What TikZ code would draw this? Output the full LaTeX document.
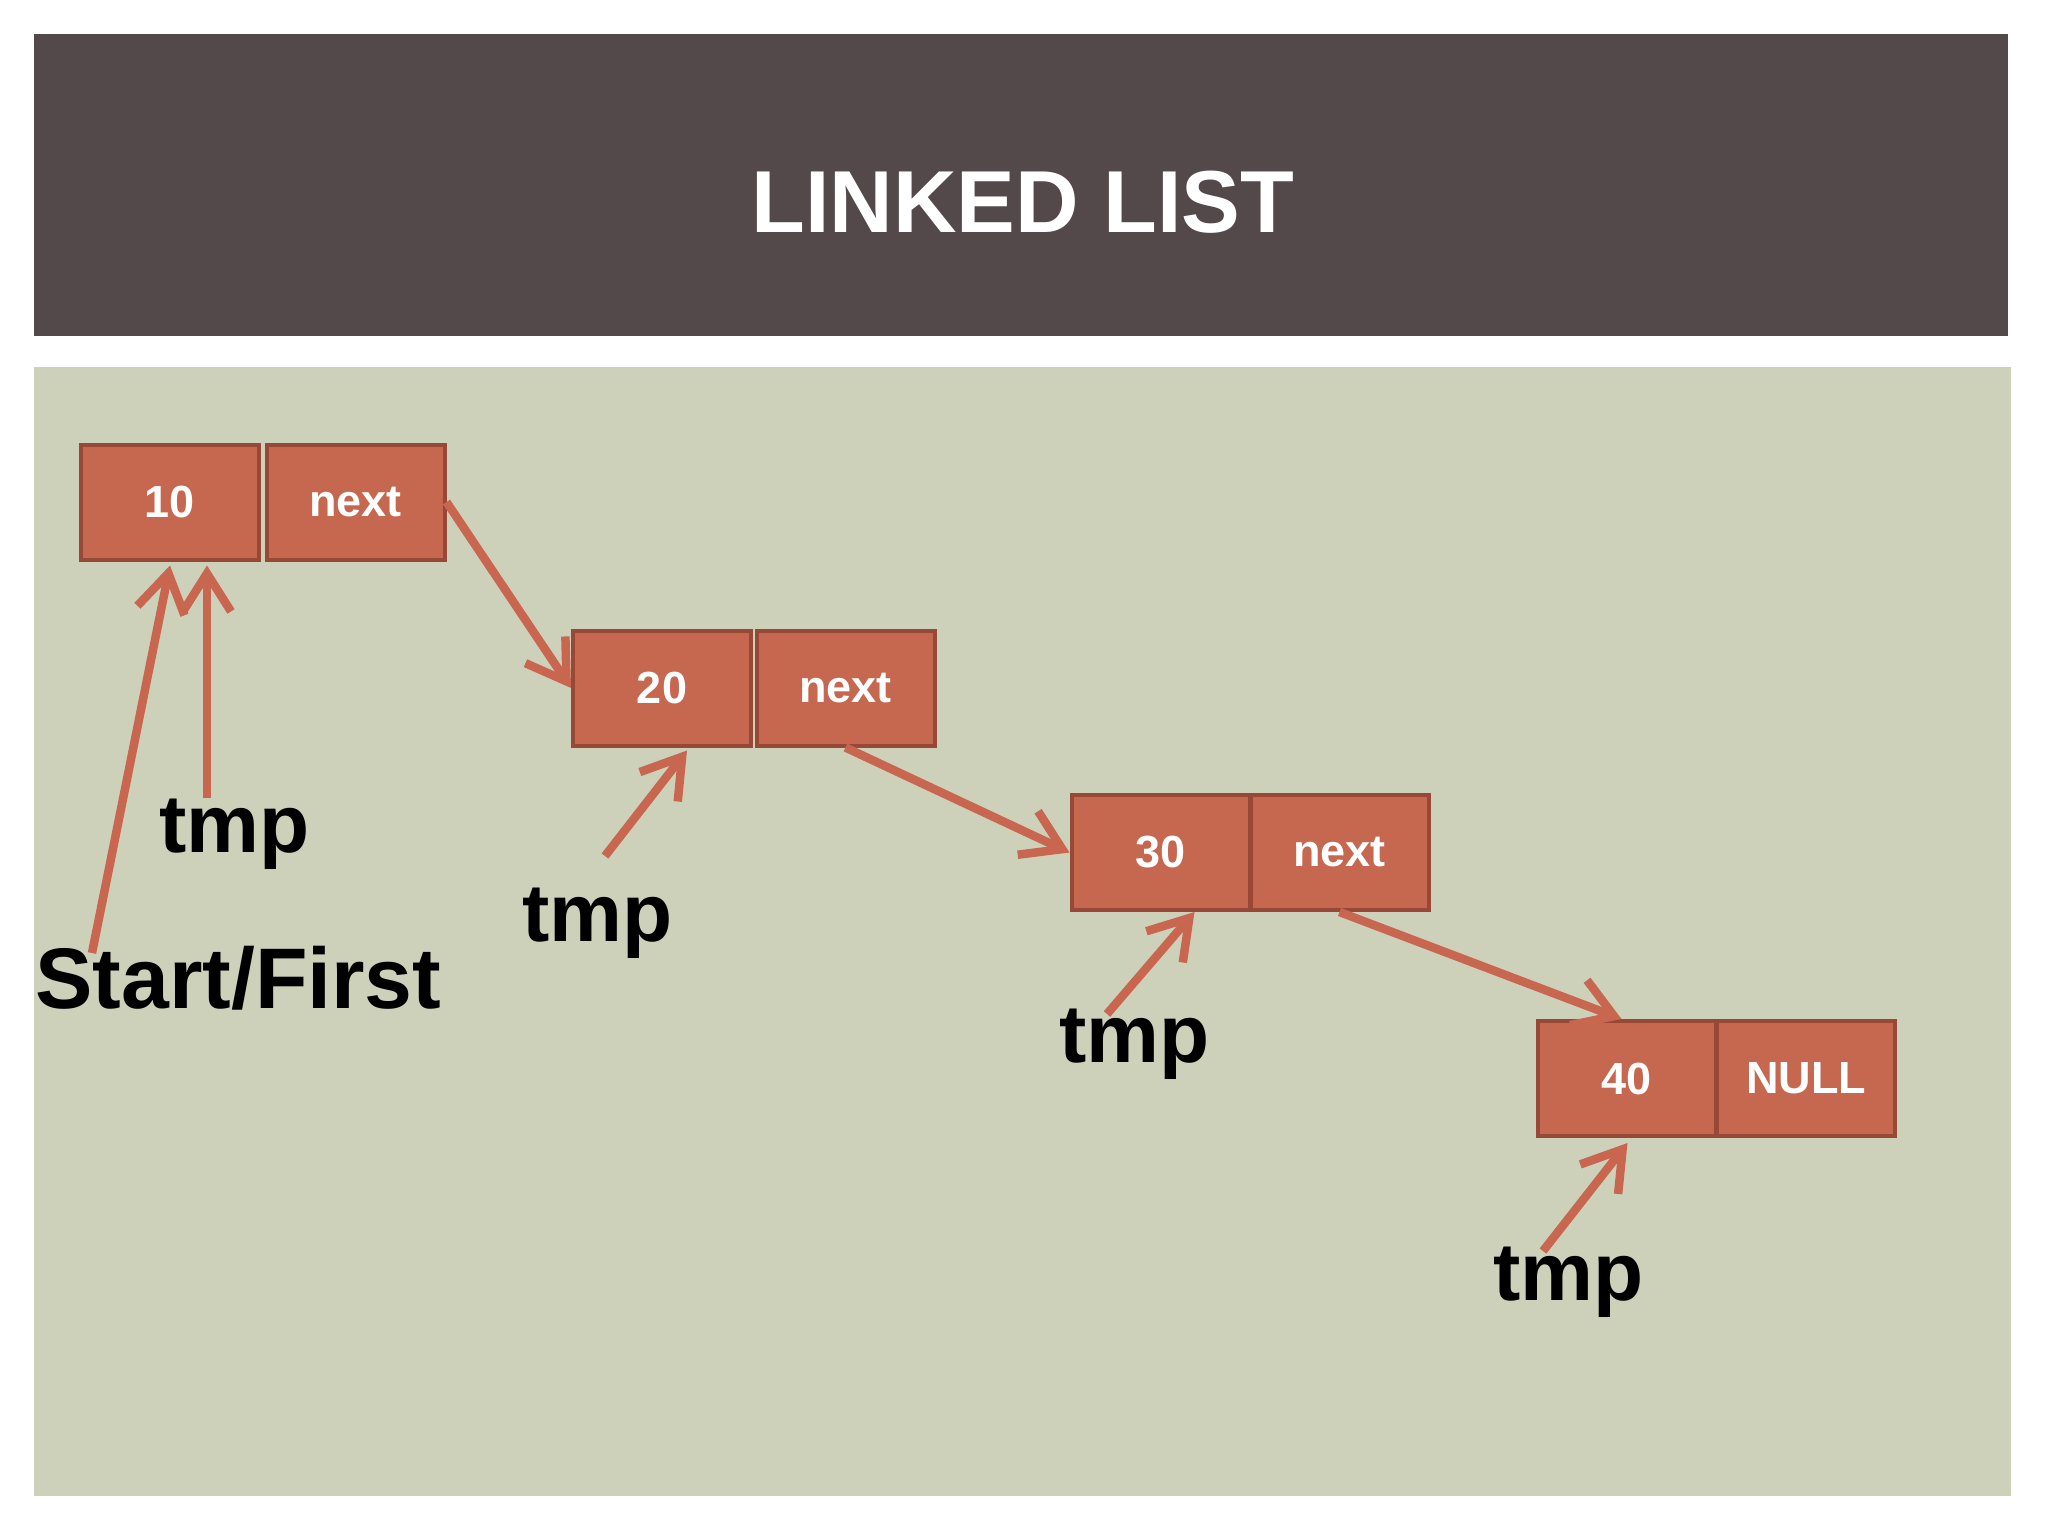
\documentclass[tikz,border=0pt]{standalone}
\usepackage{fontspec}
\setmainfont{Liberation Sans}
\usetikzlibrary{arrows.meta}
\definecolor{headc}{HTML}{53494A}
\definecolor{panelc}{HTML}{CDD1B9}
\definecolor{cellc}{HTML}{C66750}
\definecolor{celld}{HTML}{984837}
\definecolor{arrowc}{HTML}{C86650}
\begin{document}
\begin{tikzpicture}[x=1pt,y=-1pt,
  cell/.style={draw=celld, line width=4pt, fill=cellc, minimum width=178pt, minimum height=115pt,
    inner sep=0pt, text=white, font=\fontsize{45}{52}\selectfont\bfseries, anchor=center},
  lbl/.style={font=\fontsize{82}{98}\selectfont\bfseries, text=black, inner sep=0pt, anchor=base west},
  ptr/.style={draw=arrowc, line width=8.5pt, -{Straight Barb[length=38pt,width=48pt]}}]
\fill[white] (0,0) rectangle (2048,1536);
\useasboundingbox (0,0) rectangle (2048,1536);
\fill[headc] (34,34) rectangle (2008,336);
\fill[panelc] (34,367) rectangle (2011,1496);
\node[font=\fontsize{88}{100}\selectfont\bfseries, text=white, inner sep=0pt] (title) at (1023,202) {LINKED LIST};
% cells
\node[cell] (c10) at (170,502) {10};
\node[cell] (n1) at (355.5,502) {next};
\node[cell] (c20) at (662,688) {20};
\node[cell] (n2) at (845.5,688) {next};
\node[cell] (c30) at (1160.5,852.5) {30};
\node[cell] (n3) at (1339.5,852.5) {next};
\node[cell] (c40) at (1626.5,1078.5) {40};
\node[cell] (nl) at (1806,1078.5) {NULL};
% labels
\node[lbl] (t1) at (159,852) {tmp};
\node[lbl] (t2) at (522,941) {tmp};
\node[lbl] (t3) at (1059,1062) {tmp};
\node[lbl] (t4) at (1493,1300) {tmp};
\node[lbl, font=\fontsize{86}{100}\selectfont\bfseries] (sf) at (35,1008) {Start/First};
% pointer starts
\coordinate (p0) at (92,953);
\coordinate (p1) at (207,798);
\coordinate (p2) at (605,856);
\coordinate (p3) at (1107,1014);
\coordinate (p4) at (1543,1251);
% connectors
\draw[ptr] (n1.east) -- (c20.west);
\draw[ptr] (n2.south) -- (c30.west);
\draw[ptr] (n3.south) -- ([xshift=-5pt]c40.north);
\draw[ptr] (p0) -- ([yshift=-4pt]c10.south);
\draw[ptr] (p1) -- ([xshift=37pt,yshift=-4pt]c10.south);
\draw[ptr] (p2) -- ([xshift=25pt,yshift=-3pt]c20.south);
\draw[ptr] (p3) -- ([xshift=34pt]c30.south);
\draw[ptr] (p4) -- ([xshift=1pt,yshift=-5pt]c40.south);
\end{tikzpicture}
\end{document}
